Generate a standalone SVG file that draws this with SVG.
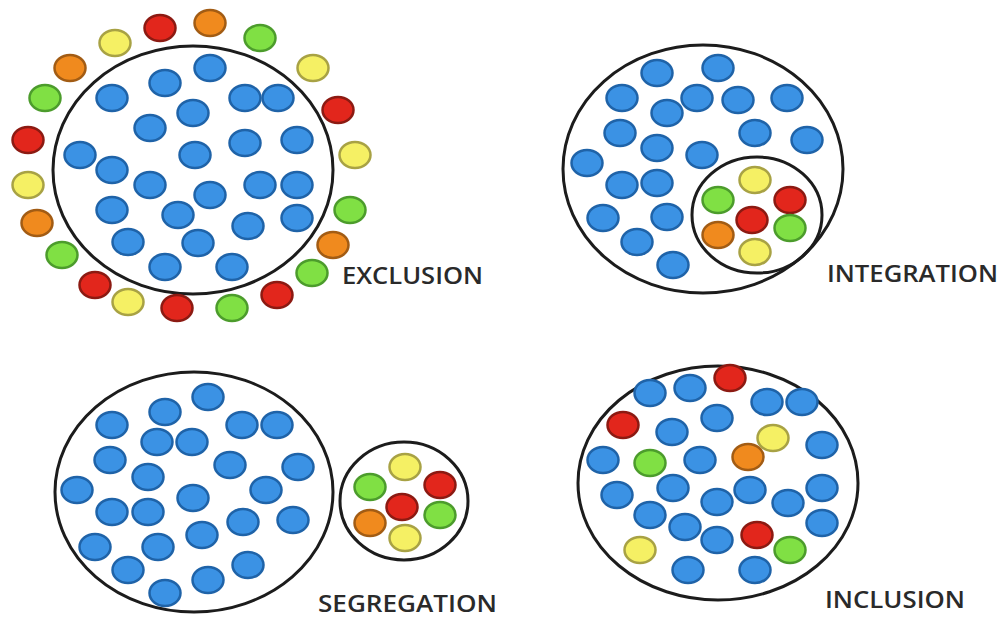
<svg xmlns="http://www.w3.org/2000/svg" xmlns:xlink="http://www.w3.org/1999/xlink" width="1002" height="622" viewBox="0 0 1002 622">
<style>
.ring{fill:none;stroke:#1c1c1c;stroke-width:3}
.b{fill:#3b92e4;stroke:#1f63a8}
.r{fill:#e2261c;stroke:#8c1a12}
.o{fill:#f08a1e;stroke:#a25c14}
.y{fill:#f5f064;stroke:#a8a244}
.g{fill:#80e044;stroke:#4c9c2c}
use{stroke-width:2.5}
.lbl{font-family:"Open Sans","Liberation Sans",sans-serif;font-weight:600;font-size:23px;fill:#2a2a2a}
</style>
<defs>
<ellipse id="d" cx="0" cy="0" rx="15.5" ry="13"/>
</defs>
<rect width="1002" height="622" fill="#ffffff"/>
<g id="exclusion">
<ellipse class="ring" cx="193" cy="170" rx="140" ry="124"/>
<use href="#d" class="y" x="115" y="43"/>
<use href="#d" class="r" x="160" y="28"/>
<use href="#d" class="o" x="210" y="23"/>
<use href="#d" class="g" x="260" y="38"/>
<use href="#d" class="y" x="313" y="68"/>
<use href="#d" class="r" x="338" y="110"/>
<use href="#d" class="y" x="355" y="155"/>
<use href="#d" class="g" x="350" y="210"/>
<use href="#d" class="o" x="333" y="245"/>
<use href="#d" class="g" x="312" y="273"/>
<use href="#d" class="r" x="277" y="295"/>
<use href="#d" class="g" x="232" y="308"/>
<use href="#d" class="r" x="177" y="308"/>
<use href="#d" class="y" x="128" y="302"/>
<use href="#d" class="r" x="95" y="285"/>
<use href="#d" class="g" x="62" y="255"/>
<use href="#d" class="o" x="37" y="223"/>
<use href="#d" class="y" x="28" y="185"/>
<use href="#d" class="r" x="28" y="140"/>
<use href="#d" class="g" x="45" y="98"/>
<use href="#d" class="o" x="70" y="68"/>
<use href="#d" class="b" x="210" y="68"/>
<use href="#d" class="b" x="165" y="83"/>
<use href="#d" class="b" x="112" y="98"/>
<use href="#d" class="b" x="245" y="98"/>
<use href="#d" class="b" x="278" y="98"/>
<use href="#d" class="b" x="193" y="113"/>
<use href="#d" class="b" x="150" y="128"/>
<use href="#d" class="b" x="245" y="143"/>
<use href="#d" class="b" x="297" y="140"/>
<use href="#d" class="b" x="80" y="155"/>
<use href="#d" class="b" x="195" y="155"/>
<use href="#d" class="b" x="112" y="170"/>
<use href="#d" class="b" x="150" y="185"/>
<use href="#d" class="b" x="260" y="185"/>
<use href="#d" class="b" x="297" y="185"/>
<use href="#d" class="b" x="210" y="195"/>
<use href="#d" class="b" x="112" y="210"/>
<use href="#d" class="b" x="178" y="215"/>
<use href="#d" class="b" x="248" y="226"/>
<use href="#d" class="b" x="297" y="218"/>
<use href="#d" class="b" x="128" y="242"/>
<use href="#d" class="b" x="198" y="243"/>
<use href="#d" class="b" x="165" y="267"/>
<use href="#d" class="b" x="232" y="267"/>
<text class="lbl" x="342" y="284" textLength="141" lengthAdjust="spacingAndGlyphs">EXCLUSION</text>
</g>
<g id="integration">
<ellipse class="ring" cx="703" cy="169" rx="140" ry="124"/>
<ellipse class="ring" cx="757" cy="215" rx="65" ry="58"/>
<use href="#d" class="b" x="657" y="73"/>
<use href="#d" class="b" x="718" y="68"/>
<use href="#d" class="b" x="622" y="98"/>
<use href="#d" class="b" x="697" y="98"/>
<use href="#d" class="b" x="738" y="100"/>
<use href="#d" class="b" x="667" y="113"/>
<use href="#d" class="b" x="787" y="98"/>
<use href="#d" class="b" x="620" y="133"/>
<use href="#d" class="b" x="657" y="148"/>
<use href="#d" class="b" x="755" y="133"/>
<use href="#d" class="b" x="807" y="140"/>
<use href="#d" class="b" x="702" y="155"/>
<use href="#d" class="b" x="587" y="163"/>
<use href="#d" class="b" x="622" y="185"/>
<use href="#d" class="b" x="657" y="183"/>
<use href="#d" class="b" x="603" y="218"/>
<use href="#d" class="b" x="667" y="217"/>
<use href="#d" class="b" x="637" y="242"/>
<use href="#d" class="b" x="673" y="265"/>
<use href="#d" class="y" x="755" y="180"/>
<use href="#d" class="g" x="718" y="200"/>
<use href="#d" class="r" x="790" y="200"/>
<use href="#d" class="r" x="752" y="220"/>
<use href="#d" class="g" x="790" y="228"/>
<use href="#d" class="o" x="718" y="235"/>
<use href="#d" class="y" x="755" y="252"/>
<text class="lbl" x="827" y="282" textLength="171" lengthAdjust="spacingAndGlyphs">INTEGRATION</text>
</g>
<g id="segregation">
<ellipse class="ring" cx="194" cy="492" rx="139" ry="120"/>
<ellipse class="ring" cx="404" cy="501" rx="64" ry="59"/>
<use href="#d" class="b" x="208" y="397"/>
<use href="#d" class="b" x="165" y="412"/>
<use href="#d" class="b" x="112" y="425"/>
<use href="#d" class="b" x="242" y="425"/>
<use href="#d" class="b" x="277" y="425"/>
<use href="#d" class="b" x="157" y="442"/>
<use href="#d" class="b" x="192" y="442"/>
<use href="#d" class="b" x="110" y="460"/>
<use href="#d" class="b" x="230" y="465"/>
<use href="#d" class="b" x="298" y="467"/>
<use href="#d" class="b" x="148" y="477"/>
<use href="#d" class="b" x="77" y="490"/>
<use href="#d" class="b" x="193" y="498"/>
<use href="#d" class="b" x="266" y="490"/>
<use href="#d" class="b" x="112" y="512"/>
<use href="#d" class="b" x="148" y="512"/>
<use href="#d" class="b" x="243" y="522"/>
<use href="#d" class="b" x="293" y="520"/>
<use href="#d" class="b" x="202" y="535"/>
<use href="#d" class="b" x="95" y="547"/>
<use href="#d" class="b" x="158" y="547"/>
<use href="#d" class="b" x="128" y="570"/>
<use href="#d" class="b" x="248" y="565"/>
<use href="#d" class="b" x="208" y="580"/>
<use href="#d" class="b" x="165" y="593"/>
<use href="#d" class="y" x="405" y="467"/>
<use href="#d" class="g" x="370" y="487"/>
<use href="#d" class="r" x="440" y="485"/>
<use href="#d" class="r" x="402" y="507"/>
<use href="#d" class="g" x="440" y="515"/>
<use href="#d" class="o" x="370" y="523"/>
<use href="#d" class="y" x="405" y="538"/>
<text class="lbl" x="318" y="612" textLength="179" lengthAdjust="spacingAndGlyphs">SEGREGATION</text>
</g>
<g id="inclusion">
<ellipse class="ring" cx="718" cy="483" rx="140" ry="117"/>
<use href="#d" class="b" x="650" y="393"/>
<use href="#d" class="b" x="690" y="388"/>
<use href="#d" class="r" x="730" y="378"/>
<use href="#d" class="b" x="767" y="402"/>
<use href="#d" class="b" x="802" y="402"/>
<use href="#d" class="r" x="623" y="425"/>
<use href="#d" class="b" x="672" y="432"/>
<use href="#d" class="b" x="717" y="418"/>
<use href="#d" class="y" x="773" y="438"/>
<use href="#d" class="b" x="822" y="445"/>
<use href="#d" class="b" x="603" y="460"/>
<use href="#d" class="g" x="650" y="463"/>
<use href="#d" class="b" x="700" y="460"/>
<use href="#d" class="o" x="748" y="457"/>
<use href="#d" class="b" x="617" y="495"/>
<use href="#d" class="b" x="673" y="488"/>
<use href="#d" class="b" x="717" y="502"/>
<use href="#d" class="b" x="750" y="490"/>
<use href="#d" class="b" x="788" y="503"/>
<use href="#d" class="b" x="822" y="488"/>
<use href="#d" class="b" x="650" y="515"/>
<use href="#d" class="b" x="685" y="527"/>
<use href="#d" class="b" x="717" y="540"/>
<use href="#d" class="r" x="757" y="535"/>
<use href="#d" class="g" x="790" y="550"/>
<use href="#d" class="b" x="822" y="523"/>
<use href="#d" class="y" x="640" y="550"/>
<use href="#d" class="b" x="688" y="570"/>
<use href="#d" class="b" x="755" y="570"/>
<text class="lbl" x="825" y="608" textLength="140" lengthAdjust="spacingAndGlyphs">INCLUSION</text>
</g>
<g id="connectors"/>
</svg>
